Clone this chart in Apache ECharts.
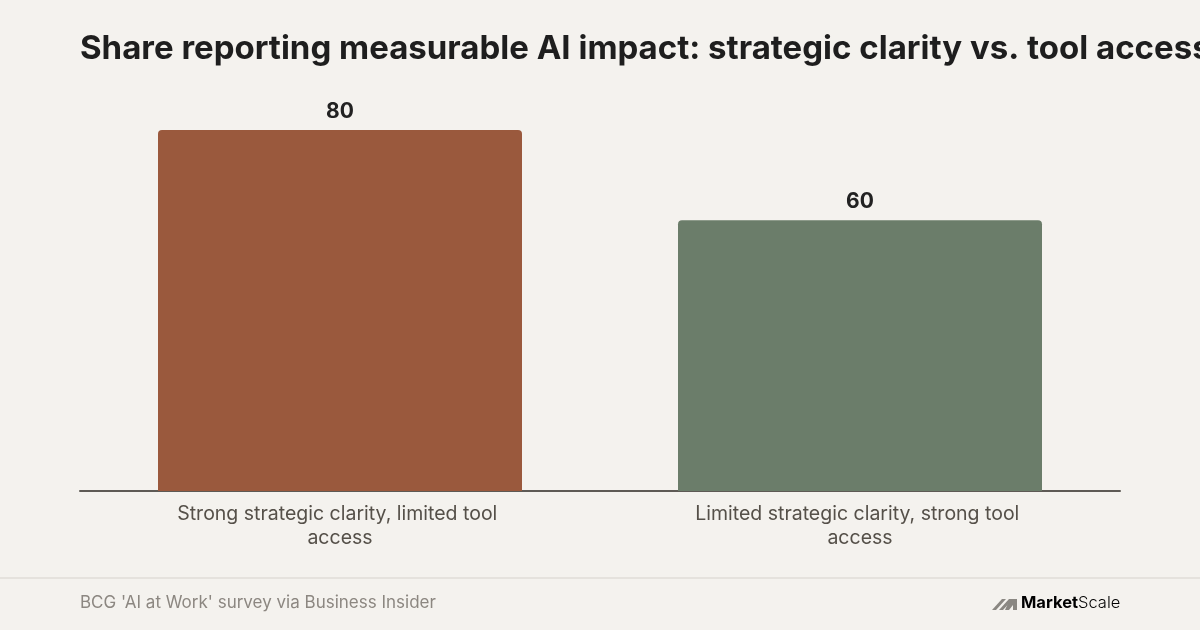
<!DOCTYPE html>
<html><head><meta charset="utf-8">
<script src="https://cdn.jsdelivr.net/npm/echarts@6/dist/echarts.min.js"></script>
<style>html,body{margin:0;padding:0;background:#F4F2EE;}#c{width:1200px;height:630px;}</style>
</head><body><div id="c"></div>
<script>
const categories = ["Strong strategic clarity, limited tool access", "Limited strategic clarity, strong tool access"];
const values = [80, 60];
const barColors = ["#9A593D", "#6B7D6A"];
const titleText = "Share reporting measurable AI impact: strategic clarity vs. tool access";
const sourceText = "BCG 'AI at Work' survey via Business Insider";

const chart = echarts.init(document.getElementById('c'), null, {renderer: 'canvas'});
chart.setOption({
  backgroundColor: '#F4F2EE',
  animation: false,
  title: {
    text: titleText, left: 80, top: 33, padding: 0,
    textStyle: {fontFamily: 'Inter', fontWeight: 700, fontSize: 33, color: '#1E1E1E'}
  },
  grid: {left: 80, right: 80, top: 130, bottom: 139, containLabel: false},
  xAxis: {
    type: 'category', data: categories,
    axisLine: {lineStyle: {color: '#5E5A55', width: 2}},
    axisTick: {show: false},
    axisLabel: {
      fontFamily: 'Inter', fontSize: 19.5, color: '#555049', margin: 11, lineHeight: 24,
      width: 350, overflow: 'break', interval: 0
    }
  },
  yAxis: {type: 'value', min: 0, max: 80, show: false, splitLine: {show: false}},
  series: [{
    type: 'bar', barWidth: '70%',
    data: values.map((v, i) => ({value: v, itemStyle: {color: barColors[i]}})),
    itemStyle: {borderRadius: [4, 4, 0, 0]},
    label: {show: true, position: 'top', distance: 8, fontFamily: 'Inter', fontWeight: 700, fontSize: 21, color: '#222'}
  }],
  graphic: [
    {type: 'rect', shape: {x: 0, y: 577, width: 1200, height: 2}, style: {fill: '#E5E2DD'}},
    {type: 'text', left: 80, top: 594, style: {text: sourceText, font: '17px Inter', fill: '#8C8781'}},
    {type: 'polygon', shape: {points: [[992,610],[1002,599],[1006,599],[996,610]]}, style: {fill: '#8A8782'}},
    {type: 'polygon', shape: {points: [[999,610],[1009,599],[1013,599],[1003,610]]}, style: {fill: '#8A8782'}},
    {type: 'polygon', shape: {points: [[1010,599],[1017,599],[1017,610],[1013,610],[1013,605],[1009,610],[1005,610]]}, style: {fill: '#8A8782'}},
    {type: 'text', left: 1021, top: 595, style: {
      text: '{a|Market}{b|Scale}',
      rich: {a: {fontFamily: 'Inter', fontWeight: 700, fontSize: 16.5, color: '#8A8782'},
             b: {fontFamily: 'Inter', fontWeight: 300, fontSize: 16.5, color: '#8A8782'}}
    }}
  ]
});
</script></body></html>
